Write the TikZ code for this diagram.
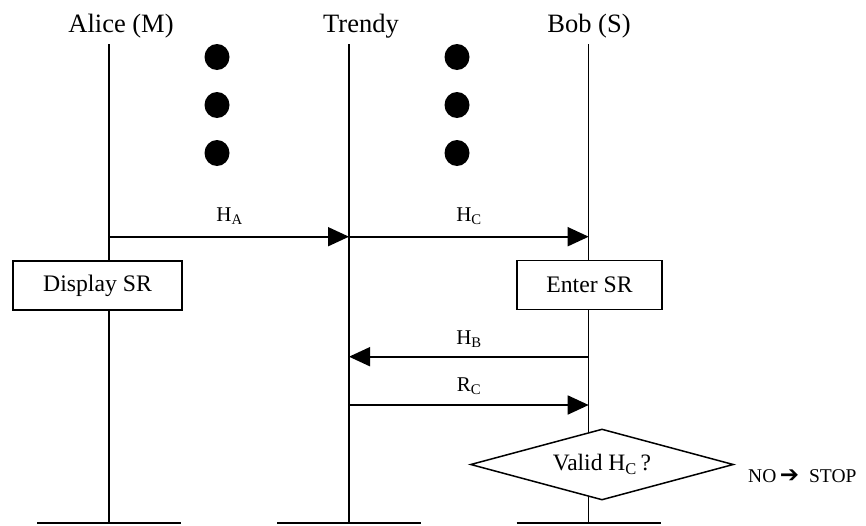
\documentclass[tikz,border=0pt]{standalone}
\usepackage{fontspec}
\setmainfont{Liberation Serif}
\newfontfamily\symfont{DejaVu Sans}
\usetikzlibrary{arrows.meta,shapes.geometric}
\begin{document}
\begin{tikzpicture}[x=1pt,y=-1pt,
  lifeline/.style={line width=1.2pt},
  baseline/.style={line width=1.5pt},
  msg/.style={line width=1.7pt,-{Triangle[length=21pt,width=19pt]}},
  actor/.style={font=\fontsize{26.5}{31}\selectfont, inner sep=0pt, anchor=base},
  lbl/.style={font=\fontsize{21}{25}\selectfont, inner sep=0pt, anchor=base},
  actbox/.style={draw,fill=white,line width=1.5pt,minimum height=49pt,inner sep=0pt,
                 font=\fontsize{23.7}{28}\selectfont},
  decision/.style={draw,fill=white,diamond,aspect=3.7,line width=1.5pt,inner sep=0pt,
                 minimum width=263pt,minimum height=71pt,
                 font=\fontsize{23.5}{28}\selectfont},
  dotmark/.style={fill=black}
]
\useasboundingbox (0,0) rectangle (866,525);

% lifeline ends
\coordinate (aT) at (109,44);   \coordinate (aB) at (109,523);
\coordinate (tT) at (349,44);   \coordinate (tB) at (349,523);
\coordinate (bT) at (588.7,44); \coordinate (bB) at (588.7,523);

% actor labels
\node[actor] (alice)  at (121,32)   {Alice (M)};
\node[actor] (trendy) at (361,32)   {Trendy};
\node[actor] (bob)    at (589,32)   {Bob (S)};

% lifelines
\draw[lifeline] (aT) -- (aB);
\draw[lifeline] (tT) -- (tB);
\draw[lifeline] (bT) -- (bB);

% bottom bars
\draw[baseline] ([xshift=-72pt]aB) -- ([xshift=72pt]aB);
\draw[baseline] ([xshift=-72pt]tB) -- ([xshift=72pt]tB);
\draw[baseline] ([xshift=-72pt]bB) -- ([xshift=72pt]bB);

% ellipsis dots
\foreach \yy in {57,105,153}{
  \fill[dotmark] (217,\yy) ellipse [x radius=12.5pt, y radius=13pt];
  \fill[dotmark] (457,\yy) ellipse [x radius=12.5pt, y radius=13pt];
}

% message rows
\coordinate (m1) at (0,236.7);
\coordinate (m2) at (0,356.7);
\coordinate (m3) at (0,405);

\draw[msg] (aT |- m1) -- (tT |- m1);
\draw[msg] (tT |- m1) -- (bT |- m1);
\draw[msg] (bT |- m2) -- (tT |- m2);
\draw[msg] (tT |- m3) -- (bT |- m3);

\node[lbl] (lHA) at (229.5,221) {H\textsubscript{A}};
\node[lbl] (lHC) at (469,221) {H\textsubscript{C}};
\node[lbl] (lHB) at (469,344) {H\textsubscript{B}};
\node[lbl] (lRC) at (469,391) {R\textsubscript{C}};

% activity boxes
\node[actbox, minimum width=169pt] (disp)  at (97.5,285.5) {Display SR};
\node[actbox, minimum width=145pt] (enter) at (589.5,285) {Enter SR};

% decision
\node[decision] (valid) at (602,464.5) {Valid H\textsubscript{C}\,?};
\node[font=\fontsize{19.5}{23}\selectfont, inner sep=0pt, anchor=base west] (stop)
  at (748,482) {NO\hspace{3.5pt}{\symfont\fontsize{23}{23}\selectfont ➔}\hspace{10pt}STOP};
\end{tikzpicture}
\end{document}
